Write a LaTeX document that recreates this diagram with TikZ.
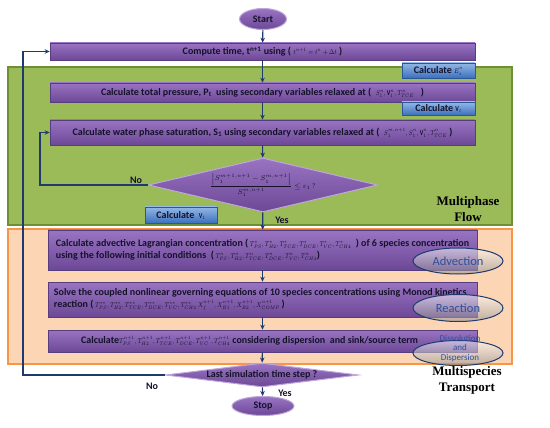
\documentclass[tikz,border=0pt]{standalone}
\usepackage{fontspec}
\setmainfont{Carlito}
\newfontfamily\headfont{Liberation Serif}
\usetikzlibrary{shapes.geometric,arrows.meta,shadows}
\definecolor{ptop}{HTML}{9874C2}
\definecolor{pbot}{HTML}{6C4896}
\definecolor{pborder}{HTML}{573C7E}
\definecolor{plight}{HTML}{BFA6DD}
\definecolor{ptext}{HTML}{16122A}
\definecolor{btop}{HTML}{93B8E6}
\definecolor{bbot}{HTML}{3C70BE}
\definecolor{bborder}{HTML}{2B5895}
\definecolor{gfill}{HTML}{9BBB59}
\definecolor{gline}{HTML}{6F8F35}
\definecolor{ofill}{HTML}{FCD5B4}
\definecolor{oline}{HTML}{F79646}
\definecolor{navy}{HTML}{1F3A6E}
\definecolor{ltext}{HTML}{2E4F9E}
\newcommand{\smm}[1]{\scalebox{0.8}[1]{\fontsize{7.5}{8}\selectfont$#1$}}
\begin{document}
\begin{tikzpicture}[x=1pt,y=-1pt,
  pbox/.style={rectangle, draw=pborder, line width=0.6pt, top color=ptop, bottom color=pbot,
    text=ptext, font=\bfseries\fontsize{10}{12}\selectfont, inner sep=1pt,
    drop shadow={shadow xshift=1pt, shadow yshift=-1.2pt, opacity=0.35}},
  bbox/.style={rectangle, draw=bborder, line width=0.6pt, top color=btop, bottom color=bbot,
    text=ptext, font=\bfseries\fontsize{10}{11}\selectfont, inner sep=0pt},
  pdia/.style={diamond, draw=plight, line width=1pt, top color=ptop, bottom color=pbot,
    text=ptext, inner sep=0pt, font=\bfseries\fontsize{10}{11}\selectfont},
  pell/.style={ellipse, draw=plight, line width=1pt, top color=ptop, bottom color=pbot,
    text=ptext, inner sep=0pt, font=\bfseries\fontsize{10}{11}\selectfont},
  lens/.style={ellipse, draw=navy, line width=1pt, top color=white, bottom color=black!45,
    fill opacity=0.55, text opacity=1, text=ltext, inner sep=0pt, font=\fontsize{12.5}{13}\selectfont},
  arr/.style={draw=navy, line width=1.1pt, -{Stealth[length=5pt,width=4.5pt]}},
  lbl/.style={text=ptext, font=\bfseries\fontsize{10}{12}\selectfont, inner sep=0pt},
  head/.style={text=black, font=\headfont\bfseries\fontsize{13}{16}\selectfont, align=center, inner sep=0pt}]
\useasboundingbox (0,0) rectangle (550,428);

% regions
\draw[fill=gfill, draw=gline, line width=2.5pt] (8,67) rectangle (512,225);
\draw[fill=ofill, draw=oline, line width=2.5pt] (8,229) rectangle (512,364);

% nodes
\node[pell, minimum width=47pt, minimum height=21pt] (start) at (263,19) {Start};
\node[pbox, minimum width=425pt, minimum height=17pt] (compute) at (262.5,51.5)
  {Compute time, t\textsuperscript{n+1} using ( \smm{t^{n+1} = t^{n}+\Delta t} )};
\node[bbox, minimum width=73pt, minimum height=15pt] (calcE) at (438.5,70.5) {Calculate \smm{E_s^{n}}};
\node[pbox, minimum width=425pt, minimum height=19pt] (press) at (262.5,92.5)
  {Calculate total pressure, P\textsubscript{t}\ \ using secondary variables relaxed at (\ \ \smm{S_1^{n},\mathbf{V}_1^{n},T_{TCE}^{n}}\ \ \ )\hspace{18pt}};
\node[bbox, minimum width=73pt, minimum height=13pt] (calcVt) at (438.5,108.5) {Calculate \smm{\mathbf{V}_t}};
\node[pbox, minimum width=425pt, minimum height=25pt] (sat) at (262.5,132.5)
  {Calculate water phase saturation, S\textsubscript{1} using secondary variables relaxed at (\ \ \smm{S_1^{m,n+1},S_1^{n},\mathbf{V}_1^{n},T_{TCE}^{n}} )};
\node[pdia, minimum width=229pt, minimum height=54pt, shape aspect=4.24] (d1) at (263,185)
  {{\fontsize{7}{8}\selectfont$\displaystyle\frac{\left|S_1^{m+1,n+1}-S_1^{m,n+1}\right|}{S_1^{m,n+1}}\le\varepsilon_1\,?$}};
\node[bbox, minimum width=72pt, minimum height=16pt] (calcVl) at (181,215) {Calculate\ \ \smm{\mathbf{V}_1}};
\node[lbl] (no1) at (136,180) {No};
\node[lbl] (yes1) at (282,220) {Yes};
\node[head] (mflow) at (468,209.5) {Multiphase\\Flow};

\node[pbox, minimum width=429pt, minimum height=40pt] (adv) at (262.5,250) {};
\node[lbl, anchor=west, align=left] (advtext) at ([xshift=8pt]adv.west)
  {Calculate advective Lagrangian concentration (\,\smm{T^{*}_{PS},T^{*}_{H2},T^{*}_{TCE},T^{*}_{DCE},T^{*}_{VC},T^{*}_{CH4}}\ \ ) of 6 species concentration\\
   using the following initial conditions\ \ (\,\smm{T^{n}_{PS},T^{n}_{H2},T^{n}_{TCE},T^{n}_{DCE},T^{n}_{VC},T^{n}_{CH4}})};
\node[pbox, minimum width=429pt, minimum height=35pt] (reac) at (262.5,299.5) {};
\node[lbl, anchor=west, align=left] (reactext) at ([xshift=6pt]reac.west)
  {Solve the coupled nonlinear governing equations of 10 species concentrations using Monod kinetics\\
   reaction (\,\smm{T^{**}_{PS},T^{**}_{H2},T^{**}_{TCE},T^{**}_{DCE},T^{**}_{VC},T^{**}_{CH4}\ X^{n+1}_{f},X^{n+1}_{B1},X^{n+1}_{B2},X^{n+1}_{COMP}}\,)};
\node[pbox, minimum width=429pt, minimum height=22pt] (calc) at (262.5,341) {};
\node[lbl, anchor=west] (calctext) at (81,341)
  {Calculate\smm{T^{n+1}_{PS},T^{n+1}_{H2},T^{n+1}_{TCE},T^{n+1}_{DCE},T^{n+1}_{VC},T^{n+1}_{CH4}} considering dispersion\ \ and sink/source term};

\node[lens, minimum width=90pt, minimum height=26pt] (advell) at (458,261) {Advection};
\node[lens, minimum width=90pt, minimum height=27pt] (reacell) at (458,308) {Reaction};
\node[lens, minimum width=90pt, minimum height=25pt] (dissell) at (458,353) {};
\node[text=ltext, font=\fontsize{9}{9.5}\selectfont, align=center, inner sep=0pt] (disstext) at (460,348.5) {Dissolution\\and\\Dispersion};

\node[pdia, minimum width=193pt, minimum height=24pt, shape aspect=8] (d2) at (262,375) {Last simulation time step ?};
\node[pell, minimum width=62pt, minimum height=19pt] (stop) at (263,406) {Stop};
\node[lbl] (no2) at (152,386) {No};
\node[lbl] (yes2) at (285,393) {Yes};
\node[head] (mtrans) at (467,380) {Multispecies\\Transport};

% connectors
\coordinate (c1) at (40,185);
\coordinate (c2) at (23,375);
\draw[arr] (start) -- (compute);
\draw[arr] (compute) -- (press);
\draw[arr] (press) -- (sat);
\draw[arr] (sat) -- (d1);
\draw[arr] (d1) -- (adv);
\draw[arr] (adv) -- (reac);
\draw[arr] (reac) -- (calc);
\draw[arr] (calc) -- (d2);
\draw[arr] (d2) -- (stop);
\draw[arr] (d1.west) -- (c1) |- (sat.west);
\draw[arr] (d2.west) -- (c2) |- (compute.west);
\end{tikzpicture}
\end{document}
